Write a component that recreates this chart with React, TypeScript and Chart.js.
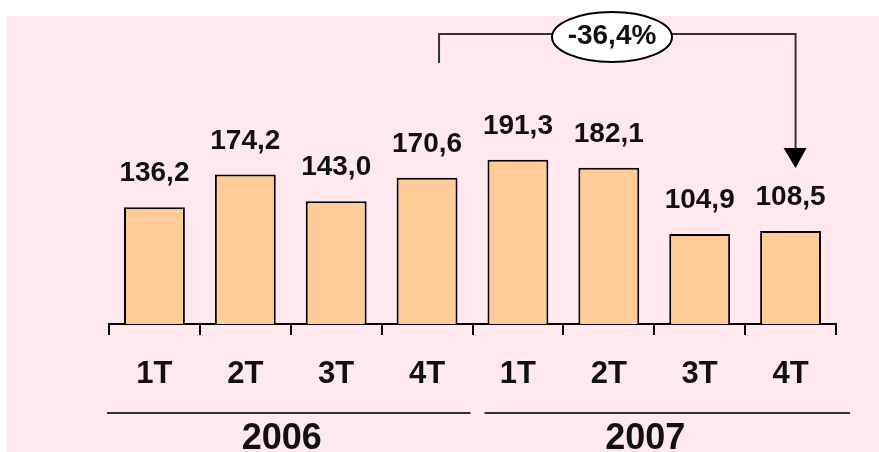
import { useEffect, useRef } from "react";
import { Chart, registerables } from "chart.js";

Chart.register(...registerables);

const quarters = ["1T", "2T", "3T", "4T", "1T", "2T", "3T", "4T"];
const years = ["2006", "2007"];
const quartersPerYear = 4;
const values = [136.2, 174.2, 143.0, 170.6, 191.3, 182.1, 104.9, 108.5];
const changeLabel = "-36,4%";

const FONT = "'Liberation Sans', Arial, sans-serif";
const fmt = (v: number) => v.toFixed(1).replace(".", ",");

const backgroundPlugin = {
  id: "bg",
  beforeDraw(chart: any) {
    const { ctx, width, height } = chart;
    ctx.save();
    ctx.fillStyle = "#ffffff";
    ctx.fillRect(0, 0, width, height);
    ctx.fillStyle = "rgb(255,233,238)";
    ctx.fillRect(7, 16, width - 7, height - 16);
    ctx.restore();
  },
};

const overlayPlugin = {
  id: "overlay",
  afterDraw(chart: any) {
    const { ctx } = chart;
    const xs = chart.scales.x;
    const ys = chart.scales.y;
    const meta = chart.getDatasetMeta(0);
    ctx.save();
    // value labels
    ctx.fillStyle = "#111";
    ctx.font = `bold 28px ${FONT}`;
    ctx.textAlign = "center";
    ctx.textBaseline = "alphabetic";
    meta.data.forEach((bar: any, i: number) => {
      ctx.fillText(fmt(values[i]), bar.x, bar.y - 26);
    });

    // year groups
    const step = xs.getPixelForValue(1) - xs.getPixelForValue(0);
    years.forEach((yr, g) => {
      const first = g * quartersPerYear;
      const last = first + quartersPerYear - 1;
      const x0 = xs.getPixelForValue(first) - step / 2;
      const x1 = xs.getPixelForValue(last) + step / 2;
      ctx.strokeStyle = "#333";
      ctx.lineWidth = 2;
      ctx.beginPath();
      ctx.moveTo(x0 - 2 + g * 14, 413);
      ctx.lineTo(x1 - 2 + g * 16, 413);
      ctx.stroke();
      ctx.fillStyle = "#111";
      ctx.font = `bold 36px ${FONT}`;
      ctx.textAlign = "center";
      ctx.textBaseline = "alphabetic";
      ctx.fillText(yr, (x0 + x1) / 2 - 9, 449);
    });

    // change annotation
    const lx = xs.getPixelForValue(3) + 12;
    const rx = xs.getPixelForValue(values.length - 1) + 5;
    const topY = 34;
    const tipY = ys.getPixelForValue(values[values.length - 1]) - 63;
    ctx.strokeStyle = "#333";
    ctx.lineWidth = 2;
    ctx.beginPath();
    ctx.moveTo(lx, 63);
    ctx.lineTo(lx, topY);
    ctx.lineTo(rx, topY);
    ctx.lineTo(rx, tipY - 19);
    ctx.stroke();
    ctx.fillStyle = "#000";
    ctx.beginPath();
    ctx.moveTo(rx - 12, tipY - 20);
    ctx.lineTo(rx + 11, tipY - 20);
    ctx.lineTo(rx, tipY);
    ctx.closePath();
    ctx.fill();

    const cx = 612;
    const cy = 37;
    ctx.beginPath();
    ctx.ellipse(cx, cy, 60, 25, 0, 0, Math.PI * 2);
    ctx.fillStyle = "#fff";
    ctx.fill();
    ctx.strokeStyle = "#000";
    ctx.lineWidth = 2;
    ctx.stroke();
    ctx.fillStyle = "#111";
    ctx.font = `bold 28px ${FONT}`;
    ctx.textAlign = "center";
    ctx.textBaseline = "middle";
    ctx.fillText(changeLabel, cx, cy - 1);
    ctx.restore();
  },
};

export default function App() {
  const ref = useRef<HTMLCanvasElement | null>(null);
  useEffect(() => {
    if (!ref.current) return;
    const chart = new Chart(ref.current, {
      type: "bar",
      data: {
        labels: quarters,
        datasets: [
          {
            data: values,
            backgroundColor: "#FFCC99",
            borderColor: "#000",
            borderWidth: 2,
            categoryPercentage: 1,
            barPercentage: 0.67,
          },
        ],
      },
      options: {
        responsive: false,
        animation: false,
        devicePixelRatio: 1,
        layout: { padding: { top: 66.6, left: 109, right: 43, bottom: 0 } },
        plugins: { legend: { display: false }, tooltip: { enabled: false } },
        scales: {
          x: {
            offset: true,
            grid: {
              offset: true,
              drawOnChartArea: false,
              drawTicks: true,
              tickLength: 11,
              color: "#000",
              lineWidth: 2,
            },
            border: { display: true, color: "#000", width: 2 },
            ticks: {
              color: "#111",
              font: { family: FONT, weight: "bold", size: 31 },
              padding: 21,
              maxRotation: 0,
              autoSkip: false,
            },
            afterFit: (s: any) => {
              s.height = 128;
            },
          },
          y: { display: false, min: 0, max: 300 },
        },
      },
      plugins: [backgroundPlugin, overlayPlugin],
    } as any);
    return () => chart.destroy();
  }, []);
  return (
    <div style={{ position: "fixed", left: 0, top: 0, width: 879, height: 452 }}>
      <canvas ref={ref} width={879} height={452} style={{ display: "block" }} />
    </div>
  );
}
